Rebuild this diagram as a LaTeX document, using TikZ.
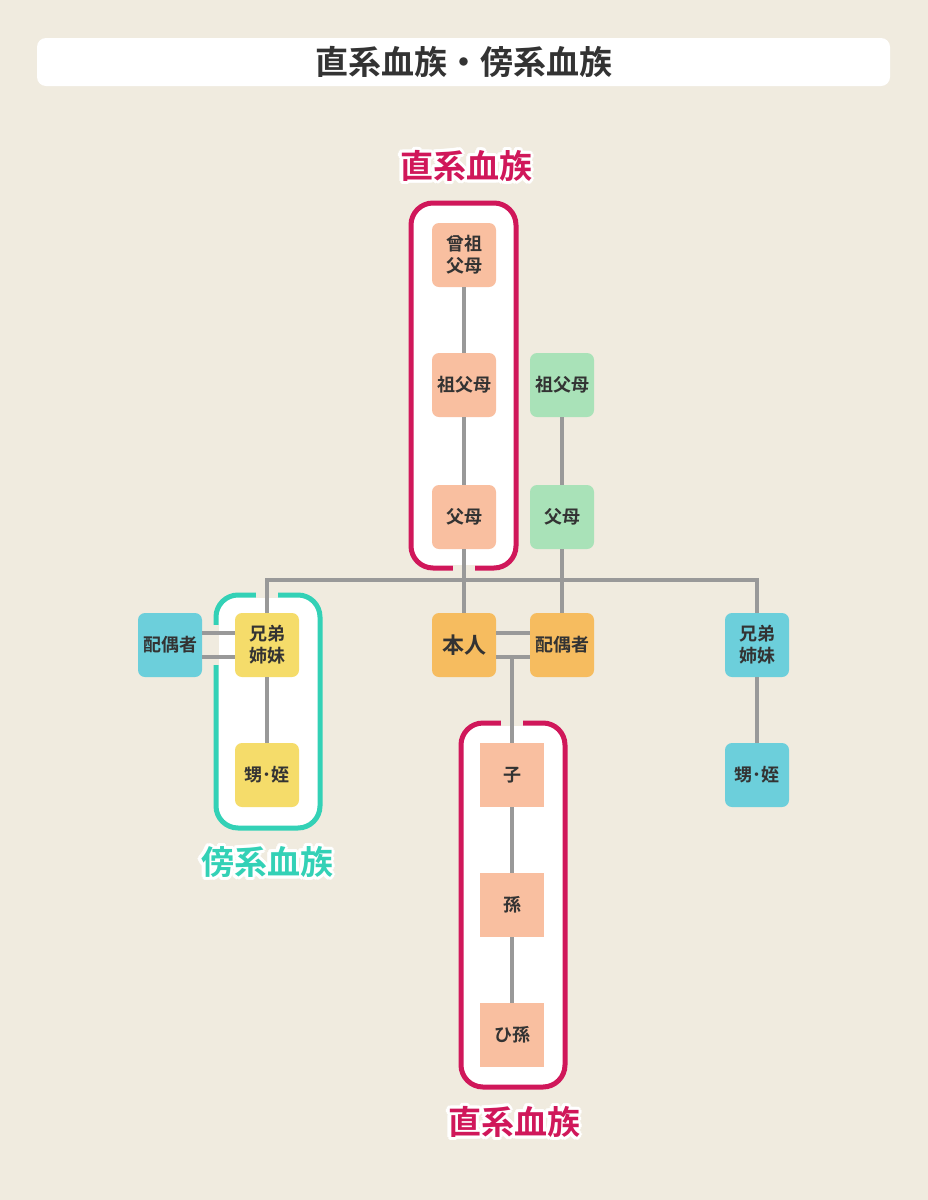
\documentclass[tikz,border=0pt]{standalone}
\usepackage{fontspec}
\setmainfont{Noto Sans CJK JP}[BoldFont={Noto Sans CJK JP Bold}]
\usetikzlibrary{calc}
\definecolor{bg}{HTML}{F0EBDF}
\definecolor{redc}{HTML}{D0175A}
\definecolor{teal}{HTML}{33D1B6}
\definecolor{pink}{HTML}{F9BFA0}
\definecolor{mint}{HTML}{A9E2B8}
\definecolor{orng}{HTML}{F6BC5F}
\definecolor{cyanb}{HTML}{6CCFDB}
\definecolor{yell}{HTML}{F5DC6A}
\definecolor{gry}{HTML}{999999}
\definecolor{txt}{HTML}{333333}
\newcommand\olabel[4]{%
  \foreach \a in {0,30,...,359}{\node[font=\bfseries\fontsize{33}{35}\selectfont,text=white] at ($(#2)+(\a:3.4)$) {#4};}
  \node[font=\bfseries\fontsize{33}{35}\selectfont,text=#3] (#1) at (#2) {#4};}
\begin{document}
\begin{tikzpicture}[x=1pt,y=-1pt,
  fam/.style={minimum width=64pt,minimum height=64pt,inner sep=0pt,rounded corners=7pt,font=\bfseries\fontsize{18}{22}\selectfont,text=txt,align=center},
  sq/.style={fam,rounded corners=0pt},
  frame/.style={line width=5pt,rounded corners=22pt,fill=white},
  link/.style={draw=gry,line width=4pt},
  gap/.style={draw=bg,line width=5.5pt}]
\fill[bg] (0,0) rectangle (928,1200);
\useasboundingbox (0,0) rectangle (928,1200);
\fill[white,rounded corners=9pt] (37,38) rectangle (890,86);
\node[font=\bfseries\fontsize{33}{35}\selectfont,text=txt] (title) at (464,62) {直系血族・傍系血族};
% frames
\draw[frame,draw=redc] (411,203) rectangle (516,568);
\draw[frame,draw=teal] (216,595) rectangle (320,828);
\draw[frame,draw=redc] (461,723) rectangle (565,1087);
% gaps in frames
\draw[gap] (453,568) -- (475,568);
\draw[gap] (256,595) -- (278,595);
\draw[gap] (216,625) -- (216,665);
\draw[gap] (501,723) -- (523,723);
% nodes
\node[fam,fill=pink] (sg) at (464,255) {曾祖\\父母};
\node[fam,fill=pink] (gp) at (464,385) {祖父母};
\node[fam,fill=pink] (pa) at (464,517) {父母};
\node[fam,fill=mint] (gp2) at (562,385) {祖父母};
\node[fam,fill=mint] (pa2) at (562,517) {父母};
\node[fam,fill=orng,font=\bfseries\fontsize{22}{24}\selectfont] (me) at (464,645) {本人};
\node[fam,fill=orng] (sp) at (562,645) {配偶者};
\node[fam,fill=cyanb] (lsp) at (170,645) {配偶者};
\node[fam,fill=yell] (lsib) at (267,645) {兄弟\\姉妹};
\node[fam,fill=yell] (lnn) at (267,775) {甥･姪};
\node[fam,fill=cyanb] (rsib) at (757,645) {兄弟\\姉妹};
\node[fam,fill=cyanb] (rnn) at (757,775) {甥･姪};
\node[sq,fill=pink] (ch) at (512,775) {子};
\node[sq,fill=pink] (gc) at (512,905) {孫};
\node[sq,fill=pink] (ggc) at (512,1035) {ひ孫};
% connectors
\coordinate (bar) at (464,580);
\draw[link] (sg) -- (gp);
\draw[link] (gp) -- (pa);
\draw[link] (gp2) -- (pa2);
\draw[link] (pa) -- (me);
\draw[link] (pa2) -- (sp);
\draw[link] (lsib.north) |- (bar) -| (rsib.north);
\draw[link] ([yshift=12pt]me.east) -- ([yshift=12pt]sp.west);
\draw[link] ([yshift=-12pt]me.east) -- ([yshift=-12pt]sp.west);
\draw[link] ([yshift=12pt]lsp.east) -- ([yshift=12pt]lsib.west);
\draw[link] ([yshift=-12pt]lsp.east) -- ([yshift=-12pt]lsib.west);
\coordinate (low) at ([yshift=-12pt]me.east);
\draw[link] (ch.north) -- (ch.north |- low);
\draw[link] (ch) -- (gc);
\draw[link] (gc) -- (ggc);
\draw[link] (lsib) -- (lnn);
\draw[link] (rsib) -- (rnn);
% labels
\olabel{l1}{466,166}{redc}{直系血族}
\olabel{l2}{267,862}{teal}{傍系血族}
\olabel{l3}{514,1122}{redc}{直系血族}
\end{tikzpicture}
\end{document}
